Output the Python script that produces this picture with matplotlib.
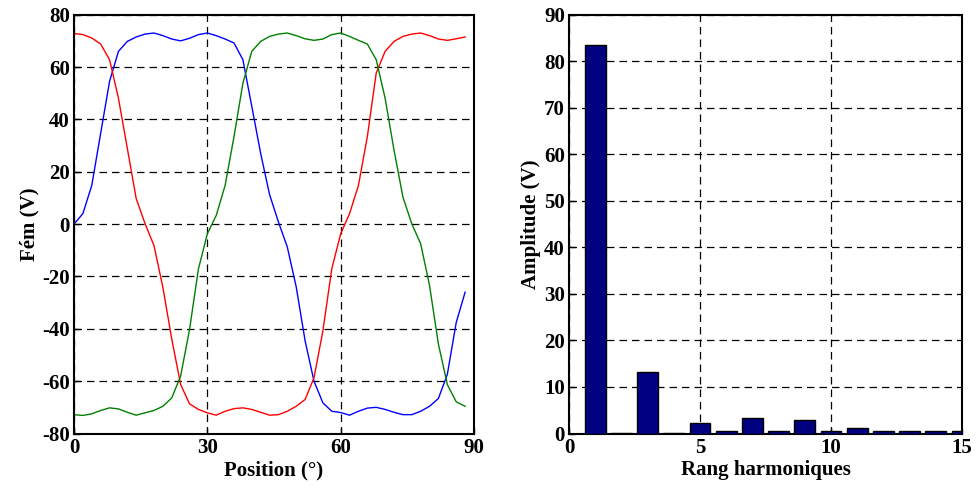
import numpy as np
import matplotlib
matplotlib.use("Agg")
import matplotlib.pyplot as plt

# ---- data: left plot (back-EMF of three phases vs position) ----
position = list(range(0, 90, 2))  # 0..88 deg
phase_blue = [0, 4.0, 14.8, 34.7, 54.5, 66.0, 69.8, 71.5, 72.6, 73.0, 72.0, 70.7,
              70.0, 71.0, 72.4, 73.0, 72.0, 70.7, 69.2, 62.8, 45.0, 27.0, 11.3,
              0.8, -8.8, -24.0, -44.6, -60.0, -68.3, -71.5, -72.0, -73.0, -71.5, -70.3,
              -70.0, -70.8, -71.9, -72.8, -72.8, -71.5, -69.6, -66.6, -57.4, -37.6, -26.0]
phase_red = [72.8, 72.4, 71.1, 68.8, 62.8, 48.1, 28.9, 9.7, 0.1, -8.2, -24.2, -44.0,
             -61.3, -68.7, -70.8, -72.1, -73.0, -71.5, -70.5, -70.2, -70.8, -71.9, -73.0,
             -72.8, -71.5, -69.6, -67.0, -58.7, -40.8, -17.1, -3.7, 4.0, 14.8, 33.4,
             57.7, 66.0, 69.8, 71.7, 72.6, 73.0, 72.0, 70.7, 70.2, 70.8, 71.5]
phase_green = [-72.8, -73.1, -72.5, -71.2, -70.2, -70.6, -71.9, -73.0, -72.1, -71.2, -69.6, -66.4,
               -58.0, -40.2, -17.1, -3.7, 3.3, 14.8, 33.4, 53.8, 66.0, 69.8, 71.7,
               72.6, 73.0, 72.0, 70.8, 70.2, 70.7, 72.4, 73.0, 71.7, 70.2, 68.8,
               62.8, 48.1, 28.3, 10.4, 0.1, -7.5, -23.5, -45.9, -61.3, -67.9, -69.6]

# ---- data: right plot (harmonic spectrum) ----
harmonic_rank = list(range(1, 16))
harmonic_amplitude = [83.5, 0.2, 13.3, 0.2, 2.2, 0.5, 3.3, 0.5, 3.0, 0.5, 1.1, 0.5, 0.5, 0.5, 0.5]

plt.rcParams['font.family'] = ['Liberation Serif', 'DejaVu Serif']
plt.rcParams['font.weight'] = 'bold'
plt.rcParams['axes.unicode_minus'] = False

fig = plt.figure(figsize=(9.76, 4.92), dpi=100)
ax1 = fig.add_axes([74/976, 1 - 433.5/492, 400/976, 418.8/492])
ax2 = fig.add_axes([569/976, 1 - 433.5/492, 393/976, 418.8/492])

grid_kw = dict(color='black', linestyle=(0, (6, 4)), linewidth=0.9)

# left
ax1.plot(position, phase_blue, color='#0000ff', linewidth=1.0)
ax1.plot(position, phase_red, color='#ff0000', linewidth=1.0)
ax1.plot(position, phase_green, color='#008000', linewidth=1.0)
ax1.set_xlim(0, 90)
ax1.set_ylim(-80, 80)
ax1.set_xticks([0, 30, 60, 90])
ax1.set_yticks(list(range(-80, 81, 20)))
ax1.grid(True, **grid_kw)
ax1.set_xlabel('Position (°)', fontsize=15, fontweight='bold', labelpad=2)
ax1.set_ylabel('Fém (V)', fontsize=15, fontweight='bold', labelpad=2)

# right
ax2.bar(harmonic_rank, harmonic_amplitude, width=0.8, color='#000080',
        edgecolor='black', linewidth=1.0, zorder=3)
ax2.set_xlim(0, 15)
ax2.set_ylim(0, 90)
ax2.set_xticks([0, 5, 10, 15])
ax2.set_yticks(list(range(0, 91, 10)))
ax2.grid(True, **grid_kw)
ax2.set_axisbelow(True)
ax2.set_xlabel('Rang harmoniques', fontsize=15, fontweight='bold', labelpad=2)
ax2.set_ylabel('Amplitude (V)', fontsize=15, fontweight='bold', labelpad=2)

for ax in (ax1, ax2):
    for s in ax.spines.values():
        s.set_linewidth(1.5)
    ax.tick_params(direction='in', length=4, width=1, labelsize=15, pad=3)
    for lab in ax.get_xticklabels() + ax.get_yticklabels():
        lab.set_fontweight('bold')

fig.savefig('out.png', dpi=100)
